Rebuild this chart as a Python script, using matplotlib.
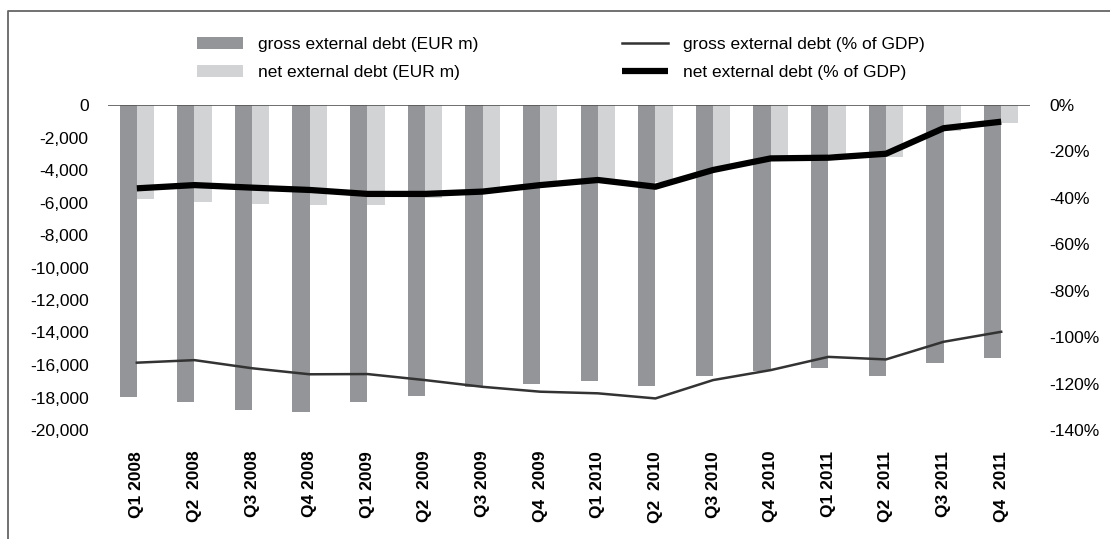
import matplotlib
matplotlib.use("Agg")
import matplotlib.pyplot as plt
from matplotlib.ticker import FuncFormatter
from matplotlib.lines import Line2D

plt.rcParams['font.family'] = ['Liberation Sans', 'DejaVu Sans']

# quarters (some labels carry a double space, as in the source)
quarters = ["Q1 2008", "Q2  2008", "Q3 2008", "Q4 2008",
            "Q1 2009", "Q2  2009", "Q3 2009", "Q4  2009",
            "Q1 2010", "Q2  2010", "Q3 2010", "Q4  2010",
            "Q1 2011", "Q2  2011", "Q3 2011", "Q4  2011"]

# EUR m
gross_eur = [-17950, -18260, -18770, -18870, -18260, -17890, -17330, -17170,
             -16990, -17270, -16660, -16370, -16160, -16660, -15860, -15550]
net_eur = [-5800, -5950, -6070, -6150, -6150, -5750, -5300, -4850,
           -4620, -4720, -3800, -3120, -3030, -3180, -1580, -1130]

# % of GDP
gross_pct = [-111.0, -109.9, -113.4, -116.0, -115.9, -118.5, -121.4, -123.5,
             -124.2, -126.4, -118.5, -114.2, -108.5, -109.6, -102.0, -97.7]
net_pct = [-35.9, -34.5, -35.6, -36.6, -38.3, -38.3, -37.3, -34.5,
           -32.3, -35.2, -28.0, -23.0, -22.7, -21.0, -10.0, -7.2]

fs = 12.5
fig = plt.figure(figsize=(11.1, 5.39), dpi=100)
ax = fig.add_axes([108/1110, 1-430/539, (1030-108)/1110, (430-105)/539])
ax2 = ax.twinx()

x = list(range(len(quarters)))
b1 = ax.bar([i - 0.15 for i in x], gross_eur, width=0.3, color="#939598",
            label="gross external debt (EUR m)")
b2 = ax.bar([i + 0.15 for i in x], net_eur, width=0.3, color="#d1d3d4",
            label="net external debt (EUR m)")

l1, = ax2.plot(x, gross_pct, color="#333333", lw=1.8,
               solid_joinstyle="round", label="gross external debt (% of GDP)")
l2, = ax2.plot(x, net_pct, color="black", lw=4.5,
               solid_joinstyle="round", solid_capstyle="butt",
               label="net external debt (% of GDP)")

ax.set_xlim(-0.5, len(quarters) - 0.5)
ax.set_ylim(-20000, 0)
ax2.set_ylim(-140, 0)
ax.set_yticks(range(-20000, 1, 2000))
ax2.set_yticks(range(-140, 1, 20))
ax.yaxis.set_major_formatter(FuncFormatter(lambda v, p: f"{int(v):,}"))
ax2.yaxis.set_major_formatter(FuncFormatter(lambda v, p: f"{int(v)}%"))

ax.set_xticks(x)
ax.set_xticklabels(quarters, rotation=90, fontweight="bold", fontsize=fs,
                   va="top", ha="center")
ax.tick_params(axis="x", length=0, pad=15)
ax.tick_params(axis="y", length=0, pad=14, labelsize=fs)
ax2.tick_params(axis="y", length=0, pad=14, labelsize=fs)

for a in (ax, ax2):
    for s in a.spines.values():
        s.set_visible(False)
ax.axhline(0, color="#555555", lw=1.2, zorder=5)

fig.legend(handles=[b1, b2, l1, l2], ncol=2, loc="upper left",
           bbox_to_anchor=(197/1110, 1 - 37/539), frameon=False,
           fontsize=fs, borderpad=0, borderaxespad=0, handlelength=2.65,
           handletextpad=0.85, columnspacing=8.3, labelspacing=0.72)

# outer frame (top and left edges visible)
fig.add_artist(Line2D([8/1110, 8/1110, 1], [0, 1-11/539, 1-11/539],
                      transform=fig.transFigure, color="#666666", lw=1.3))

fig.savefig("out.png", dpi=100)
